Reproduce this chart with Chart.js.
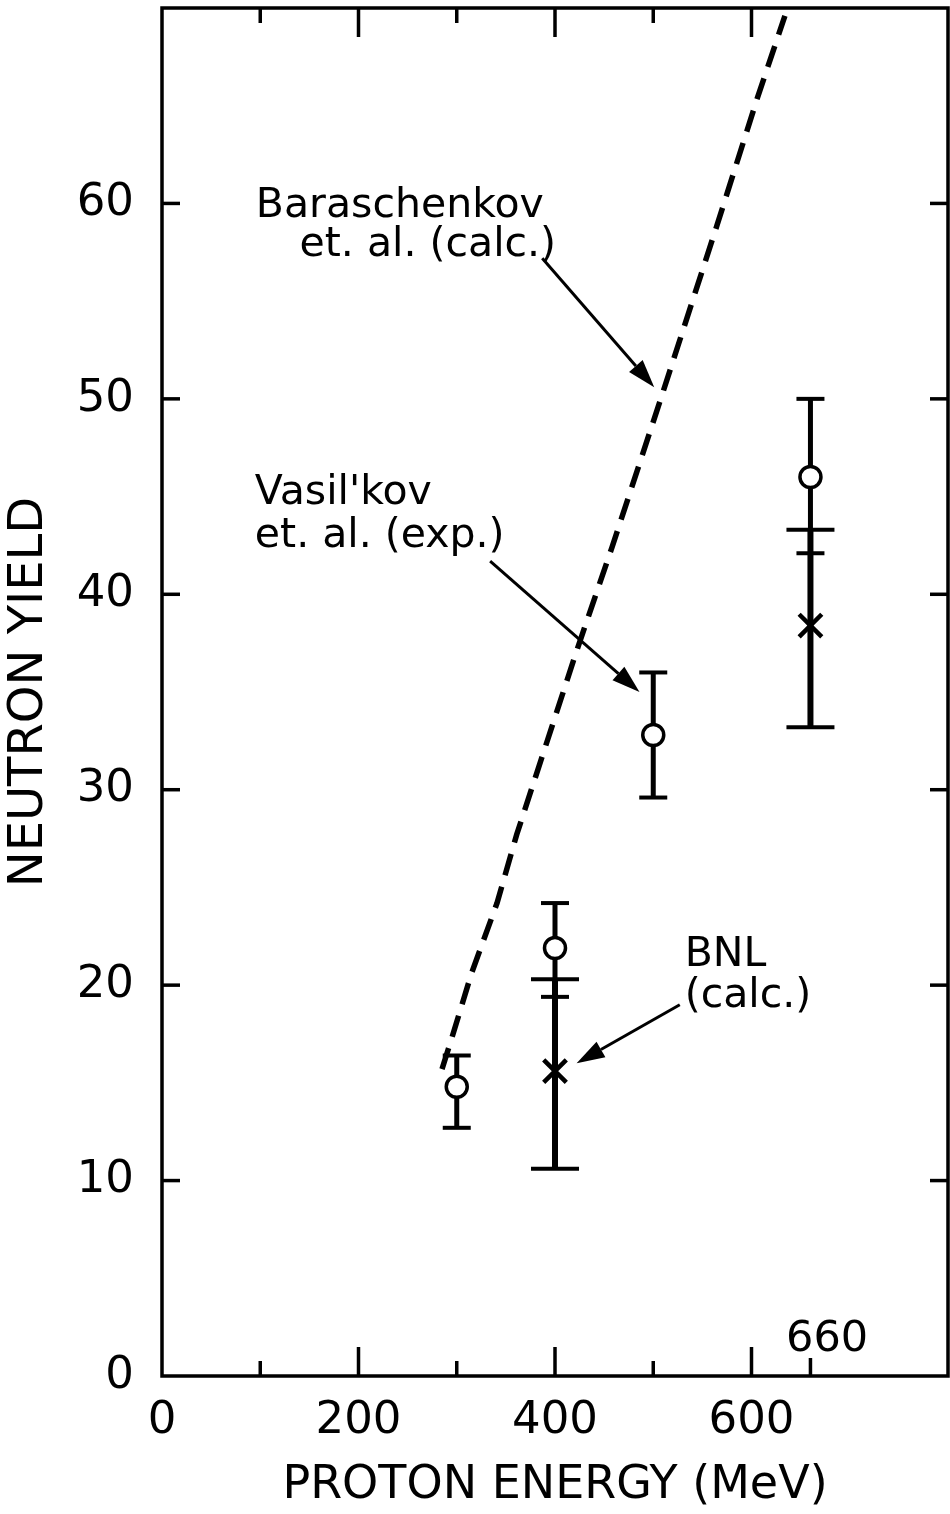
<!DOCTYPE html>
<html>
<head>
<meta charset="utf-8">
<script src="https://cdn.jsdelivr.net/npm/chart.js@4"></script>
<style>
  html, body { margin: 0; padding: 0; background: #fff; }
  canvas { display: block; }
</style>
</head>
<body>
<canvas id="myChart" width="950" height="1514"></canvas>
<script>
// Vasil'kov et al. (exp.) - open circles with error bars
const expEnergy = [300, 400, 500, 660];
const expYield  = [14.8, 21.9, 32.8, 46.0];
const expLow    = [12.7, 19.4, 29.6, 42.1];
const expHigh   = [16.4, 24.2, 36.0, 50.0];

// BNL (calc.) - crosses with error bars
const bnlEnergy = [400, 660];
const bnlYield  = [15.6, 38.4];
const bnlLow    = [10.6, 33.2];
const bnlHigh   = [20.3, 43.3];

// Baraschenkov et al. (calc.) - dashed curve
const calcEnergy = [285, 295, 315, 341, 361, 385, 422, 458, 507, 565, 606, 634];
const calcYield  = [15.7, 17.3, 20.6, 24.2, 27.7, 31.4, 37.1, 42.4, 49.9, 58.9, 65.4, 69.6];

// tick marks
const xTicks = [100, 200, 300, 400, 500, 600];
const xMajor = [200, 400, 600];
const yTicks = [10, 20, 30, 40, 50, 60];
const extraTick = 660;

const toXY = (xs, ys) => xs.map((v, i) => ({ x: v, y: ys[i] }));

function arrow(ctx, x0, y0, x1, y1) {
  const a = Math.atan2(y1 - y0, x1 - x0);
  const len = 28, half = 9;
  const bx = x1 - len * Math.cos(a), by = y1 - len * Math.sin(a);
  ctx.lineWidth = 3;
  ctx.beginPath(); ctx.moveTo(x0, y0); ctx.lineTo(bx, by); ctx.stroke();
  ctx.beginPath();
  ctx.moveTo(x1, y1);
  ctx.lineTo(bx + half * Math.sin(a), by - half * Math.cos(a));
  ctx.lineTo(bx - half * Math.sin(a), by + half * Math.cos(a));
  ctx.closePath();
  ctx.fill();
}

const errorBars = {
  id: 'errorBars',
  beforeDatasetsDraw(chart) {
    const { ctx, scales: { x, y } } = chart;
    ctx.save();
    ctx.strokeStyle = '#000';
    const bar = (e, lo, hi, w, cap) => {
      const px = x.getPixelForValue(e);
      ctx.lineWidth = w;
      ctx.beginPath();
      ctx.moveTo(px, y.getPixelForValue(lo));
      ctx.lineTo(px, y.getPixelForValue(hi));
      ctx.stroke();
      ctx.lineWidth = 4;
      [lo, hi].forEach(v => {
        const py = y.getPixelForValue(v);
        ctx.beginPath(); ctx.moveTo(px - cap, py); ctx.lineTo(px + cap, py); ctx.stroke();
      });
    };
    bnlEnergy.forEach((e, i) => bar(e, bnlLow[i], bnlHigh[i], 6, 24));
    expEnergy.forEach((e, i) => bar(e, expLow[i], expHigh[i], 5, 14));

    // annotation arrows, under the dashed curve
    ctx.fillStyle = '#000';
    const P = (e, v) => [x.getPixelForValue(e), y.getPixelForValue(v)];
    arrow(ctx, ...P(387, 57.2), ...P(501, 50.6));
    arrow(ctx, ...P(334, 41.7), ...P(486, 35.0));
    arrow(ctx, ...P(527, 19.0), ...P(422, 16.0));
    ctx.restore();
  }
};

const frame = {
  id: 'frame',
  afterDraw(chart) {
    const { ctx, chartArea: a, scales: { x, y } } = chart;
    ctx.save();
    ctx.strokeStyle = '#000';
    ctx.fillStyle = '#000';
    ctx.lineWidth = 3.5;
    ctx.strokeRect(a.left, a.top, a.right - a.left, a.bottom - a.top);
    xTicks.forEach(v => {
      const px = x.getPixelForValue(v);
      const len = xMajor.includes(v) ? 29 : 15;
      ctx.beginPath(); ctx.moveTo(px, a.bottom); ctx.lineTo(px, a.bottom - len); ctx.stroke();
      ctx.beginPath(); ctx.moveTo(px, a.top); ctx.lineTo(px, a.top + len); ctx.stroke();
    });
    const p660 = x.getPixelForValue(extraTick);
    ctx.beginPath(); ctx.moveTo(p660, a.bottom); ctx.lineTo(p660, a.bottom - 18); ctx.stroke();
    yTicks.forEach(v => {
      const py = y.getPixelForValue(v);
      ctx.beginPath(); ctx.moveTo(a.left, py); ctx.lineTo(a.left + 18, py); ctx.stroke();
      ctx.beginPath(); ctx.moveTo(a.right, py); ctx.lineTo(a.right - 18, py); ctx.stroke();
    });

    // text labels
    ctx.font = '41px "DejaVu Sans"';
    ctx.textBaseline = 'alphabetic';
    ctx.textAlign = 'left';
    const T = (s, e, v) => ctx.fillText(s, x.getPixelForValue(e), y.getPixelForValue(v));
    T('Baraschenkov', 95.5, 59.3);
    T('et. al. (calc.)', 140, 57.3);
    T("Vasil'kov", 94.5, 44.6);
    T('et. al. (exp.)', 94.5, 42.4);
    T('BNL', 532, 21.0);
    T('(calc.)', 532, 18.9);
    ctx.font = '43px "DejaVu Sans"';
    ctx.textAlign = 'center';
    T('660', 677, 1.3);
    ctx.restore();
  }
};

Chart.defaults.font.family = '"DejaVu Sans"';
Chart.defaults.color = '#000';

const ctx = document.getElementById('myChart').getContext('2d');
const myChart = new Chart(ctx, {
  type: 'scatter',
  data: {
    datasets: [{
      label: 'Baraschenkov et al. (calc.)',
      data: toXY(calcEnergy, calcYield),
      showLine: true,
      borderColor: '#000',
      borderWidth: 5.5,
      borderDash: [22, 12],
      pointRadius: 0,
      tension: 0
    }, {
      label: "Vasil'kov et al. (exp.)",
      data: toXY(expEnergy, expYield),
      pointStyle: 'circle',
      pointRadius: 10.5,
      borderWidth: 3.5,
      borderColor: '#000',
      backgroundColor: '#fff'
    }, {
      label: 'BNL (calc.)',
      data: toXY(bnlEnergy, bnlYield),
      pointStyle: 'crossRot',
      pointRadius: 16,
      borderWidth: 4.5,
      borderColor: '#000'
    }]
  },
  options: {
    responsive: false,
    animation: false,
    devicePixelRatio: 1,
    layout: { autoPadding: false, padding: { top: 8, right: 2, left: 0, bottom: 0 } },
    plugins: { legend: { display: false }, tooltip: { enabled: false } },
    scales: {
      x: {
        type: 'linear',
        min: 0,
        max: 800,
        grid: { display: false, drawTicks: false },
        border: { display: false },
        ticks: {
          stepSize: 200,
          padding: 18,
          font: { size: 45 },
          callback: v => (v === 800 ? null : v)
        },
        title: {
          display: true,
          text: 'PROTON ENERGY (MeV)',
          font: { size: 46 },
          padding: { top: 0, bottom: 0 }
        },
        afterFit: s => { s.height = 138; s.paddingLeft = 0; s.paddingRight = 0; }
      },
      y: {
        min: 0,
        max: 70,
        grid: { display: false, drawTicks: false },
        border: { display: false },
        ticks: {
          stepSize: 10,
          padding: 28,
          font: { size: 45 },
          callback: v => (v === 70 ? null : v)
        },
        title: {
          display: true,
          text: 'NEUTRON YIELD',
          font: { size: 48 },
          padding: { top: 1, bottom: 0 }
        },
        afterFit: s => { s.width = 162; s.paddingTop = 0; s.paddingBottom = 0; }
      }
    }
  },
  plugins: [errorBars, frame]
});
</script>
</body>
</html>
